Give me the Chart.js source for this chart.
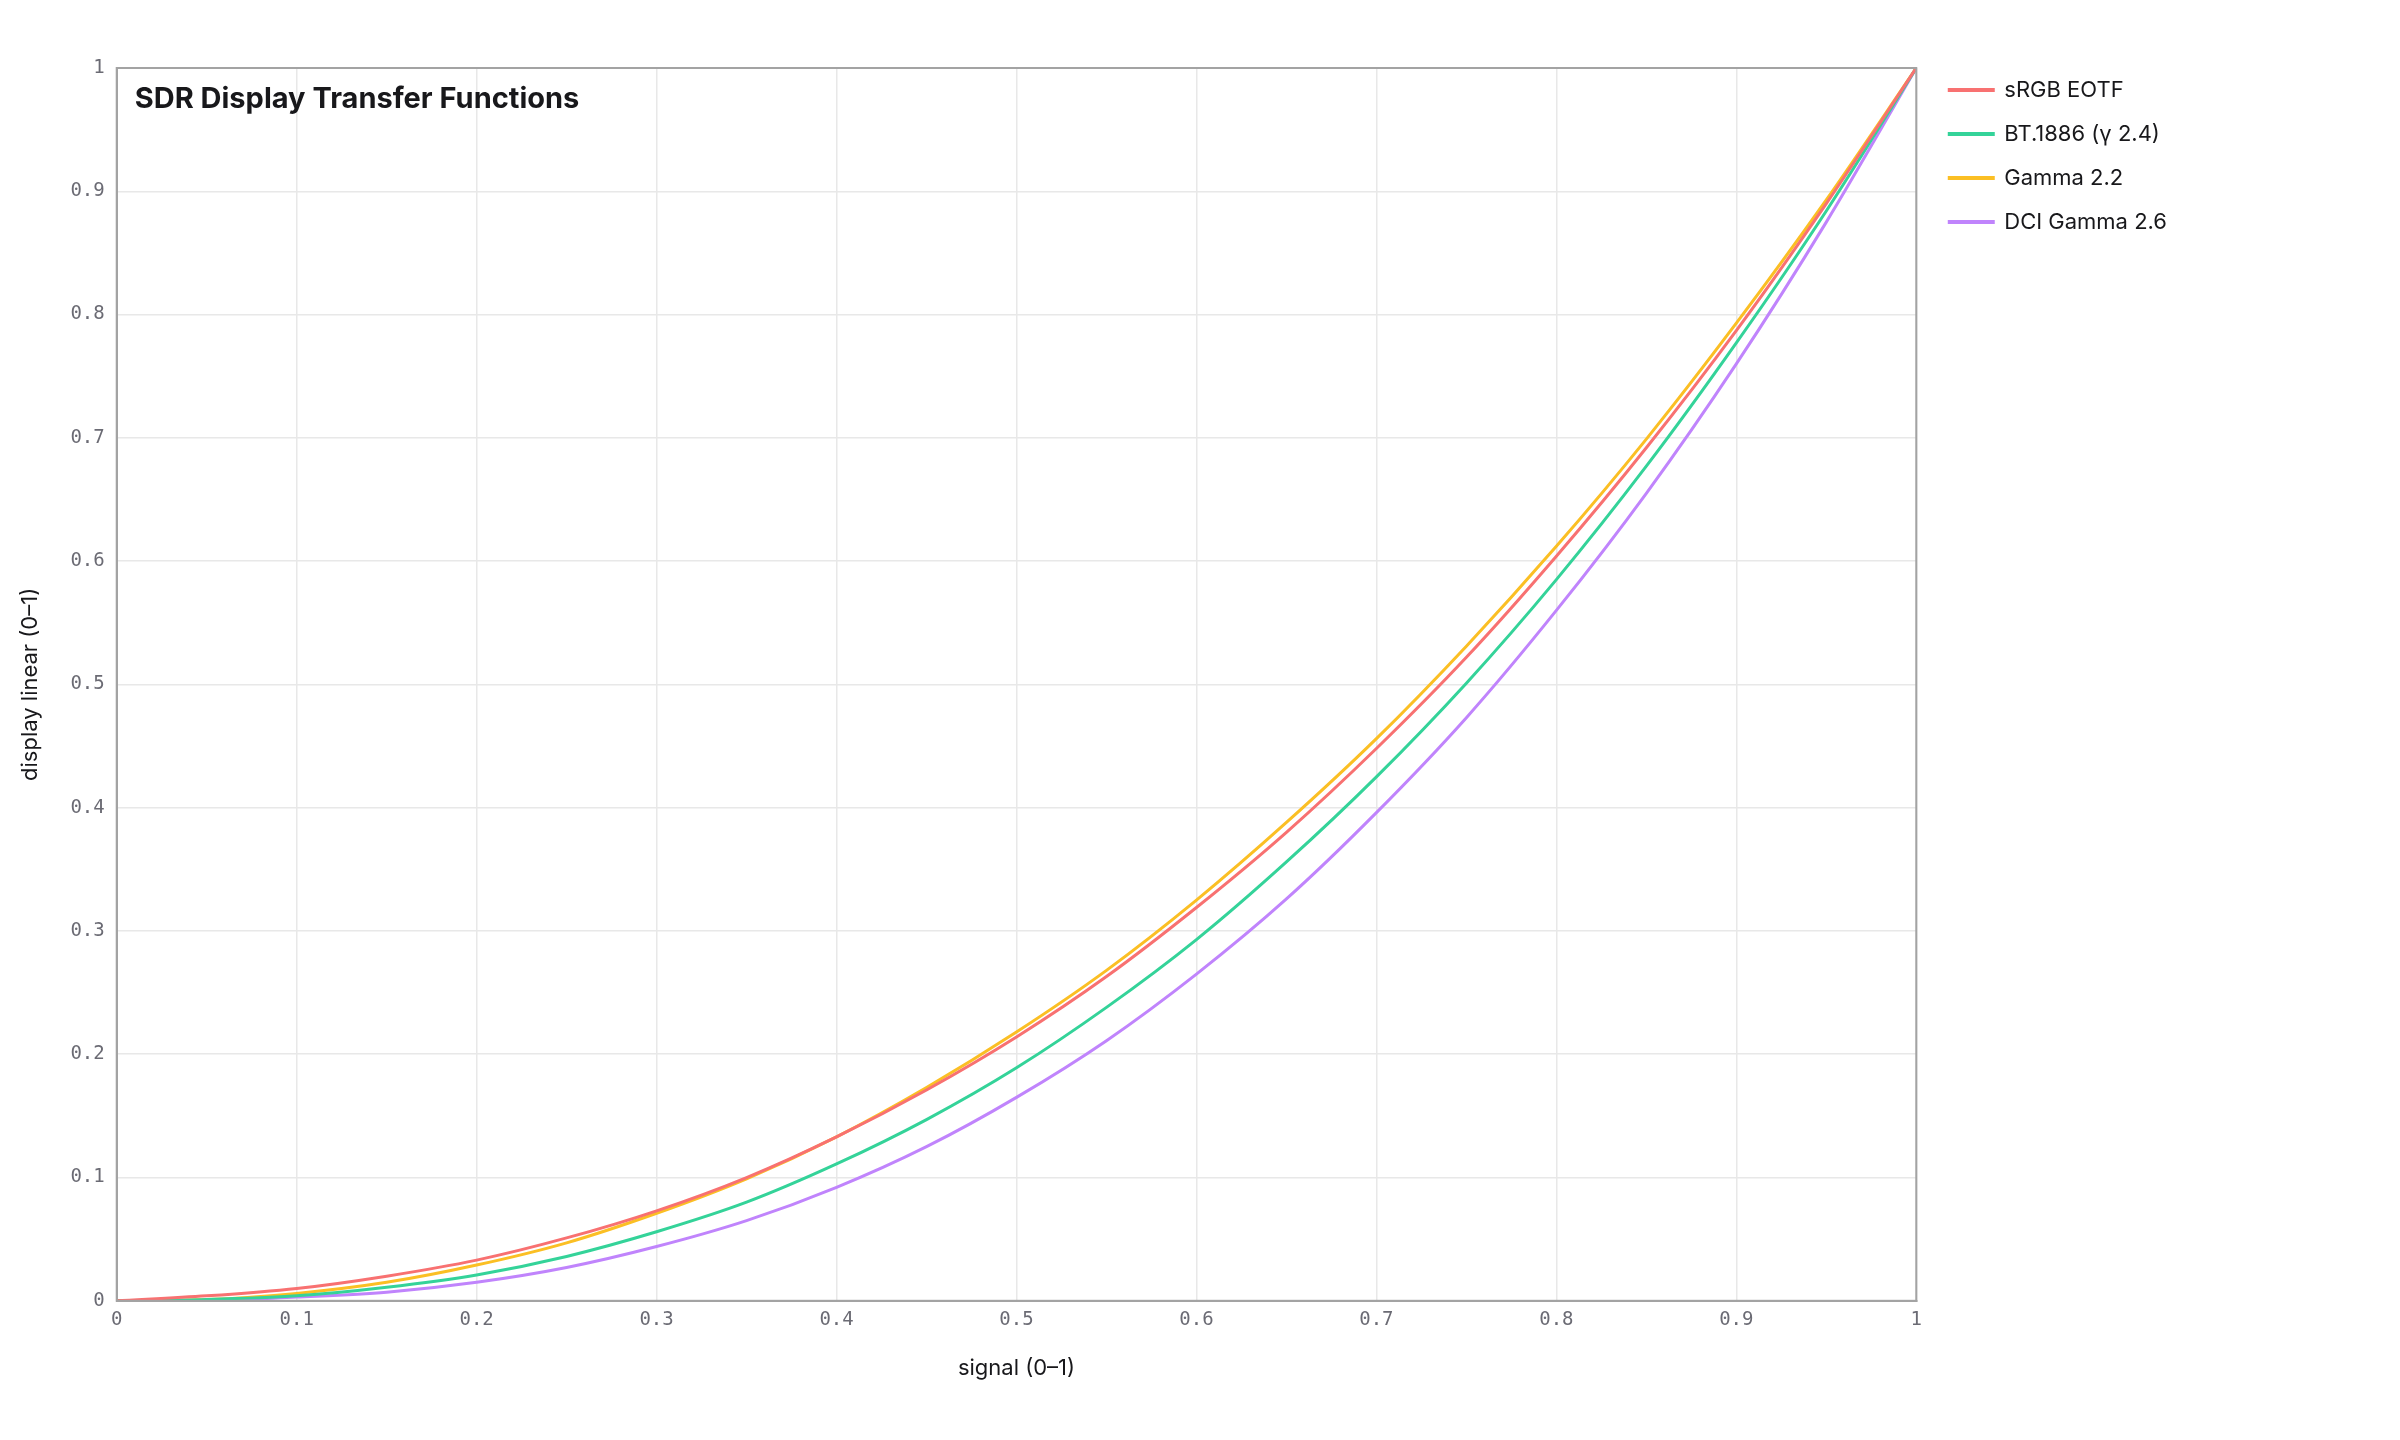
<!DOCTYPE html>
<html>
<head>
<meta charset="utf-8">
<script src="https://cdn.jsdelivr.net/npm/chart.js@4"></script>
<style>
  html, body { margin: 0; padding: 0; background: #fff; }
  #wrap { width: 2400px; height: 1440px; position: relative; }
</style>
</head>
<body>
<div id="wrap"><canvas id="chart"></canvas></div>
<script>
// signal values along the x axis
var signal = [0, 0.05, 0.1, 0.15, 0.2, 0.25, 0.3, 0.35, 0.4, 0.45, 0.5,
  0.55, 0.6, 0.65, 0.7, 0.75, 0.8, 0.85, 0.9, 0.95, 1];

// display linear light
var srgbEotf = [0, 0.004, 0.010, 0.020, 0.033, 0.051, 0.073, 0.100, 0.133, 0.171, 0.214,
  0.263, 0.319, 0.380, 0.448, 0.522, 0.604, 0.692, 0.787, 0.890, 1];
var bt1886 = [0, 0.001, 0.004, 0.011, 0.021, 0.036, 0.056, 0.080, 0.111, 0.147, 0.189,
  0.238, 0.293, 0.356, 0.425, 0.501, 0.585, 0.677, 0.777, 0.884, 1];
var gamma22 = [0, 0.001, 0.006, 0.015, 0.029, 0.047, 0.071, 0.099, 0.133, 0.173, 0.218,
  0.268, 0.325, 0.388, 0.456, 0.531, 0.612, 0.699, 0.793, 0.893, 1];
var dciGamma26 = [0, 0.000, 0.003, 0.007, 0.015, 0.027, 0.044, 0.065, 0.092, 0.125, 0.165,
  0.211, 0.265, 0.326, 0.396, 0.473, 0.560, 0.655, 0.760, 0.875, 1];

var xTicks = [0, 0.1, 0.2, 0.3, 0.4, 0.5, 0.6, 0.7, 0.8, 0.9, 1];
var yTicks = [0, 0.1, 0.2, 0.3, 0.4, 0.5, 0.6, 0.7, 0.8, 0.9, 1];

var seriesNames = ['sRGB EOTF', 'BT.1886 (\u03b3 2.4)', 'Gamma 2.2', 'DCI Gamma 2.6'];
var seriesValues = [srgbEotf, bt1886, gamma22, dciGamma26];
var colors = ['#f87171', '#34d399', '#fbbf24', '#c084fc'];

function toPoints(values) {
  return values.map(function(v, i) { return { x: signal[i], y: v }; });
}

var datasets = seriesNames.map(function(name, i) {
  return {
    label: name,
    data: toPoints(seriesValues[i]),
    borderColor: colors[i],
    backgroundColor: colors[i],
    borderWidth: 3,
    pointRadius: 0,
    cubicInterpolationMode: 'monotone',
    fill: false
  };
});

// title inside the plot and a full frame round the chart area
var frameAndTitle = {
  id: 'frameAndTitle',
  afterLayout: function(chart) {
    // nudge the legend up and right a little
    var lg = chart.legend;
    lg.left += 11; lg.right += 11;
    lg.top -= 11; lg.bottom -= 11;
  },
  afterDatasetsDraw: function(chart) {
    var ctx = chart.ctx;
    var a = chart.chartArea;
    ctx.save();
    ctx.strokeStyle = '#a3a3a3';
    ctx.lineWidth = 2;
    ctx.strokeRect(a.left, a.top, a.right - a.left, a.bottom - a.top);
    ctx.fillStyle = '#18181b';
    ctx.font = 'bold 29px Inter';
    ctx.textBaseline = 'alphabetic';
    ctx.fillText('SDR Display Transfer Functions', a.left + 18, a.top + 40);
    ctx.restore();
  }
};

function tickList(list) {
  return function(axis) {
    axis.ticks = list.map(function(v) { return { value: v }; });
  };
}

function tickText(v) {
  return String(v);
}

var monoTicks = { family: 'DejaVu Sans Mono', size: 19 };

new Chart(document.getElementById('chart'), {
  type: 'line',
  data: { datasets: datasets },
  plugins: [frameAndTitle],
  options: {
    responsive: true,
    maintainAspectRatio: false,
    animation: false,
    layout: { padding: { top: 68, left: 13, right: 234, bottom: 54 } },
    scales: {
      x: {
        type: 'linear',
        min: 0,
        max: 1,
        afterBuildTicks: tickList(xTicks),
        ticks: { color: '#6b6b74', font: monoTicks, padding: 8, callback: tickText },
        grid: { color: '#e8e8e8', lineWidth: 1.5, drawTicks: false },
        border: { color: '#a3a3a3', width: 2 },
        title: {
          display: true,
          text: 'signal (0\u20131)',
          color: '#18181b',
          font: { family: 'Inter', size: 22 },
          padding: { top: 16 }
        }
      },
      y: {
        type: 'linear',
        min: 0,
        max: 1,
        afterBuildTicks: tickList(yTicks),
        ticks: { color: '#6b6b74', font: monoTicks, padding: 12, callback: tickText },
        grid: { color: '#e8e8e8', lineWidth: 1.5, drawTicks: false },
        border: { color: '#a3a3a3', width: 2 },
        title: {
          display: true,
          text: 'display linear (0\u20131)',
          color: '#18181b',
          font: { family: 'Inter', size: 22 },
          padding: { top: 4, bottom: 15 }
        }
      }
    },
    plugins: {
      title: { display: false },
      tooltip: { enabled: false },
      legend: {
        position: 'right',
        align: 'start',
        labels: {
          boxWidth: 44,
          boxHeight: 1,
          padding: 22,
          color: '#18181b',
          font: { family: 'Inter', size: 22 }
        }
      }
    }
  }
});
</script>
</body>
</html>
